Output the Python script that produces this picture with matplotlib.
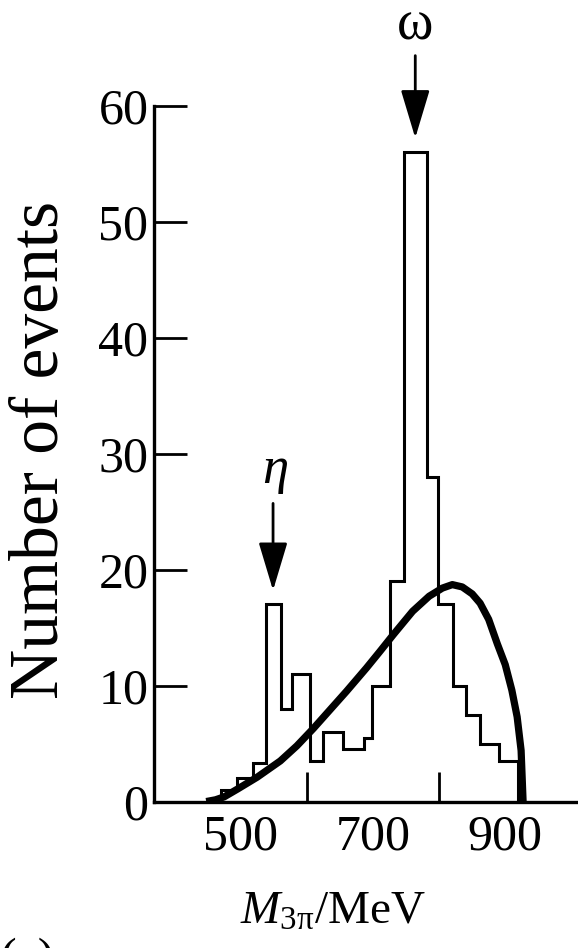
import matplotlib
matplotlib.use("Agg")
import matplotlib.pyplot as plt
from matplotlib.patches import FancyArrowPatch

plt.rcParams['font.family'] = ['Liberation Serif', 'DejaVu Serif']
plt.rcParams['mathtext.fontset'] = 'custom'
plt.rcParams['mathtext.rm'] = 'Liberation Serif'
plt.rcParams['mathtext.it'] = 'Liberation Serif:italic'

# --- histogram (bin edges in MeV, counts) ---
bin_edges = [470, 494, 519, 538, 561, 577, 605, 625, 655, 686, 698,
             726, 747, 781, 799, 821, 840, 862, 891, 920]
counts = [1, 2, 3.3, 17, 8, 11, 3.5, 6, 4.5, 5.5, 10,
          19, 56, 28, 17, 10, 7.5, 5, 3.5]

# --- phase-space curve, points ---
curve_m = [448, 462, 475, 496, 525, 560, 585, 610, 635, 660, 690, 710,
           731, 760, 785, 805, 820, 835, 850, 862, 875, 888, 900, 910,
           918, 924, 927]
curve_n = [0, 0.15, 0.4, 1.1, 2.1, 3.5, 4.8, 6.3, 7.9, 9.5, 11.5, 12.9,
           14.4, 16.4, 17.7, 18.4, 18.7, 18.5, 17.9, 17.1, 15.7, 13.6,
           11.8, 9.6, 7.3, 4.4, 0]

ytick_vals = [0, 10, 20, 30, 40, 50, 60]
xtick_labeled = [500, 700, 900]
xtick_marks = [600, 700, 800, 900]

fig = plt.figure(figsize=(5.78, 9.48), dpi=100)
ax = fig.add_axes([0.2664, 0.1545, 0.7336, 0.7342])

ax.stairs(counts, bin_edges, color='black', lw=2.2, baseline=0, zorder=3)
ax.plot(curve_m, curve_n, color='black', lw=5.2, solid_capstyle='butt',
        solid_joinstyle='round', zorder=4)

ax.set_xlim(369, 1010)
ax.set_ylim(0, 60)

for s in ('top', 'right'):
    ax.spines[s].set_visible(False)
for s in ('left', 'bottom'):
    ax.spines[s].set_linewidth(2.4)

ax.set_yticks(ytick_vals)
ax.tick_params(axis='y', direction='in', length=24, width=2.0,
               labelsize=36, pad=4)
ax.set_xticks(xtick_labeled)
ax.set_xticks(xtick_marks, minor=True)
ax.tick_params(axis='x', which='major', length=0, labelsize=36, pad=9)
ax.tick_params(axis='x', which='minor', direction='in', length=21.6,
               width=2.0)

ax.set_ylabel('Number of events', fontsize=50)
ax.yaxis.set_label_coords(-0.265, 0.505)
ax.yaxis.label.set_va('center')
ax.set_xlabel(r'$M_{\mathrm{3π}}$/MeV', fontsize=34)
ax.xaxis.set_label_coords(0.422, -0.16)
ax.xaxis.label.set_va('center')

# resonance markers
ax.text(764, 66.9, 'ω', fontsize=40, ha='center', va='center',
        clip_on=False)
ax.add_patch(FancyArrowPatch((764, 64.3), (764, 57.2),
                             arrowstyle='-|>,head_length=1.5,head_width=0.45',
                             mutation_scale=20, lw=2.0, color='black',
                             clip_on=False, shrinkA=0, shrinkB=0))
ax.text(552, 28.4, r'$\eta$', fontsize=38, ha='center', va='center')
ax.add_patch(FancyArrowPatch((549, 25.7), (549, 18.2),
                             arrowstyle='-|>,head_length=1.5,head_width=0.45',
                             mutation_scale=20, lw=2.0, color='black',
                             shrinkA=0, shrinkB=0))

fig.text(0.0, 1 - 938 / 948, '(a)', fontsize=36, va='top', ha='left')

fig.savefig('out.png', dpi=100)
